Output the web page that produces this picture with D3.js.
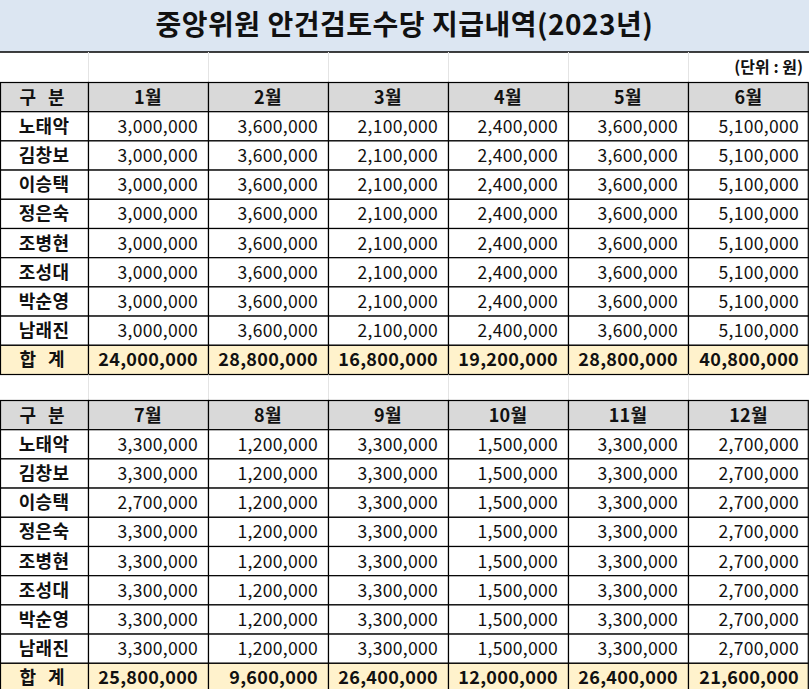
<!DOCTYPE html>
<html><head><meta charset="utf-8">
<script src="https://cdn.jsdelivr.net/npm/d3@7"></script>
<style>body{margin:0;background:#fff}svg{display:block}text{font-family:"Noto Sans CJK KR","Noto Sans",sans-serif}</style>
</head><body><svg id="c" width="809" height="689"></svg>
<script>
const title = "중앙위원 안건검토수당 지급내역(2023년)";
const unit = "(단위 : 원)";
const names = ["노태악","김창보","이승택","정은숙","조병현","조성대","박순영","남래진"];
const months1 = ["1월","2월","3월","4월","5월","6월"];
const months2 = ["7월","8월","9월","10월","11월","12월"];
// per-person values for each month (rows = names)
const values1 = [
 [3000000,3600000,2100000,2400000,3600000,5100000],
 [3000000,3600000,2100000,2400000,3600000,5100000],
 [3000000,3600000,2100000,2400000,3600000,5100000],
 [3000000,3600000,2100000,2400000,3600000,5100000],
 [3000000,3600000,2100000,2400000,3600000,5100000],
 [3000000,3600000,2100000,2400000,3600000,5100000],
 [3000000,3600000,2100000,2400000,3600000,5100000],
 [3000000,3600000,2100000,2400000,3600000,5100000]];
const values2 = [
 [3300000,1200000,3300000,1500000,3300000,2700000],
 [3300000,1200000,3300000,1500000,3300000,2700000],
 [2700000,1200000,3300000,1500000,3300000,2700000],
 [3300000,1200000,3300000,1500000,3300000,2700000],
 [3300000,1200000,3300000,1500000,3300000,2700000],
 [3300000,1200000,3300000,1500000,3300000,2700000],
 [3300000,1200000,3300000,1500000,3300000,2700000],
 [3300000,1200000,3300000,1500000,3300000,2700000]];
const totals1 = [24000000,28800000,16800000,19200000,28800000,40800000];
const totals2 = [25800000,9600000,26400000,12000000,26400000,21600000];

const svg = d3.select("#c");
const W = 809, fmt = d3.format(",");
const colEdges = [0,88,208,328,448,568,688,809];
const RH = 29.2;
const cx = i => colEdges[i], cw = i => colEdges[i+1]-colEdges[i];

svg.append("rect").attr("x",0).attr("y",0).attr("width",W).attr("height",52).attr("fill","#dce6f2");
svg.append("text").attr("x",W/2).attr("y",35).attr("text-anchor","middle").attr("font-size",28).attr("font-weight","bold").attr("letter-spacing",0.5).attr("fill","#111").text(title);
svg.append("line").attr("x1",0).attr("x2",W).attr("y1",52).attr("y2",52).attr("stroke","#000").attr("stroke-width",1.3);

function blankRow(y0,y1){
  for(let i=1;i<7;i++) svg.append("line").attr("x1",cx(i)+0.5).attr("x2",cx(i)+0.5).attr("y1",y0).attr("y2",y1).attr("stroke","#e4e4e4");
}
blankRow(52,82.5);
svg.append("text").attr("x",W-6).attr("y",73).attr("text-anchor","end").attr("font-size",16).attr("font-weight","bold").attr("fill","#111").text(unit);

function block(y0, months, vals, tots){
  const rows = [["구 분",...months]].concat(names.map((n,r)=>[n,...vals[r].map(fmt)])).concat([["합 계",...tots.map(fmt)]]);
  const y = d3.scaleLinear().domain([0,1]).range([y0,y0+RH]);
  rows.forEach((row,r)=>{
    const kind = r===0?"h":(r===rows.length-1?"t":"d");
    row.forEach((txt,c)=>{
      const g = svg.append("g");
      g.append("rect").attr("x",cx(c)+0.5).attr("y",y(r)).attr("width",cw(c)-(c===6?1.2:0)).attr("height",RH)
        .attr("fill",kind==="h"?"#d9d9d9":kind==="t"?"#fff2cc":"#fff").attr("stroke","#000").attr("stroke-width",1.2);
      const center = c===0 || kind==="h";
      g.append("text").attr("x",center?cx(c)+cw(c)/2:cx(c+1)-10).attr("y",y(r)+RH/2+6.5)
        .attr("text-anchor",center?"middle":"end")
        .attr("font-size",kind==="d"&&c>0?17.5:18).attr("font-weight",(c===0||kind!=="d")?"bold":"normal")
        .attr("letter-spacing",(c===0&&kind!=="d")?4:0.3)
        .attr("fill","#111").text(txt);
    });
  });
  return y(rows.length);
}
const end1 = block(82.5, months1, values1, totals1);
blankRow(end1, end1+26);
block(end1+26, months2, values2, totals2);
</script></body></html>
